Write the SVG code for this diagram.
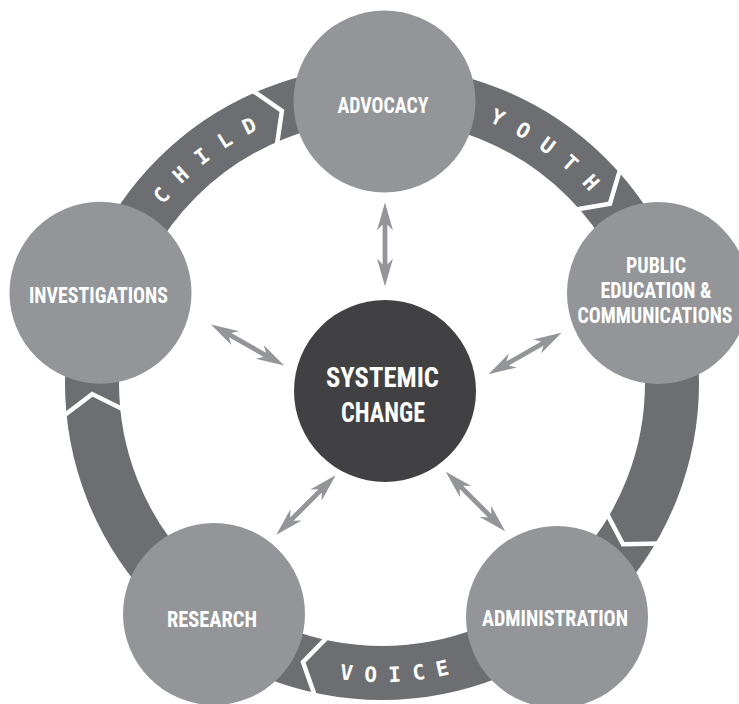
<svg xmlns="http://www.w3.org/2000/svg" xmlns:xlink="http://www.w3.org/1999/xlink" width="739" height="704" viewBox="0 0 739 704">
  <style>
    .node { fill: #939598; }
    .core { fill: #414143; }
    .lbl { font-family: "Liberation Sans Narrow", "Roboto Condensed", "Liberation Sans", Arial, sans-serif; font-weight: bold; font-size: 22px; fill: #ffffff; text-anchor: middle; }
    .big { font-size: 28px; }
    .ring { fill: none; stroke: #6d6e71; stroke-width: 54; }
    .chev { fill: none; stroke: #ffffff; stroke-width: 4.5; stroke-linejoin: miter; }
    .rt { font-family: "DejaVu Sans Mono", "Liberation Mono", monospace; font-weight: bold; font-size: 21px; fill: #ffffff; }
    .arr { fill: #939598; }
  </style>
  <defs>
    <path id="arr" d="M42,0 L14,-8 L20,-2.4 L-20,-2.4 L-14,-8 L-42,0 L-14,8 L-20,2.4 L20,2.4 L14,8 Z"/>
    <path id="pChild" d="M119.6,279.6 A282,282 0 0 1 340.3,104.1"/>
    <path id="pYouth" d="M405.6,102 A282,282 0 0 1 637.2,262.9"/>
    <path id="pVoice" d="M244,648.2 A299,299 0 0 0 542.7,635.2"/>
  </defs>
  <rect width="739" height="704" fill="#ffffff"/>
  <g id="ring">
    <circle class="ring" cx="382" cy="383" r="290"/>
    <polyline class="chev" points="660,543.5 623,544.3 606.3,512.5"/>
    <polyline class="chev" points="315.3,697 303,662 328.2,636.3"/>
    <polyline class="chev" points="62.8,416.5 92.2,394.1 124.4,410.1"/>
    <polyline class="chev" points="251.4,89.8 281.9,110.8 276.7,146.4"/>
    <polyline class="chev" points="620.5,168.2 609.9,203.7 574.5,209.7"/>
    <text class="rt" letter-spacing="14.8"><textPath href="#pChild" xlink:href="#pChild" startOffset="86.4">CHILD</textPath></text>
    <text class="rt" letter-spacing="15.2"><textPath href="#pYouth" xlink:href="#pYouth" startOffset="85.7">YOUTH</textPath></text>
    <text class="rt" letter-spacing="12"><textPath href="#pVoice" xlink:href="#pVoice" startOffset="100.9">VOICE</textPath></text>
  </g>
  <g id="connectors" class="arr">
    <use href="#arr" xlink:href="#arr" transform="translate(385,244.5) rotate(90)"/>
    <use href="#arr" xlink:href="#arr" transform="translate(247.5,345) rotate(29.4)"/>
    <use href="#arr" xlink:href="#arr" transform="translate(525,353.5) rotate(-29.7)"/>
    <use href="#arr" xlink:href="#arr" transform="translate(306,505) rotate(-45)"/>
    <use href="#arr" xlink:href="#arr" transform="translate(475.5,501.5) rotate(45)"/>
  </g>
  <g id="advocacy">
    <circle class="node" cx="384.5" cy="101.5" r="91"/>
    <text class="lbl" x="383" y="113" textLength="91" lengthAdjust="spacingAndGlyphs">ADVOCACY</text>
  </g>
  <g id="public-education">
    <circle class="node" cx="658" cy="293" r="91"/>
    <text class="lbl" x="656" y="273" textLength="60" lengthAdjust="spacingAndGlyphs">PUBLIC</text>
    <text class="lbl" x="656" y="298" textLength="111" lengthAdjust="spacingAndGlyphs">EDUCATION &amp;</text>
    <text class="lbl" x="655" y="323" textLength="155" lengthAdjust="spacingAndGlyphs">COMMUNICATIONS</text>
  </g>
  <g id="administration">
    <circle class="node" cx="557" cy="617" r="91"/>
    <text class="lbl" x="555" y="626" textLength="146" lengthAdjust="spacingAndGlyphs">ADMINISTRATION</text>
  </g>
  <g id="research">
    <circle class="node" cx="214" cy="614" r="91"/>
    <text class="lbl" x="212" y="627" textLength="90" lengthAdjust="spacingAndGlyphs">RESEARCH</text>
  </g>
  <g id="investigations">
    <circle class="node" cx="100.5" cy="292.7" r="91"/>
    <text class="lbl" x="98.5" y="303" textLength="139" lengthAdjust="spacingAndGlyphs">INVESTIGATIONS</text>
  </g>
  <g id="systemic-change">
    <circle class="core" cx="385" cy="391" r="91"/>
    <text class="lbl big" x="382.5" y="387" textLength="113" lengthAdjust="spacingAndGlyphs">SYSTEMIC</text>
    <text class="lbl big" x="383" y="422" textLength="84" lengthAdjust="spacingAndGlyphs">CHANGE</text>
  </g>
</svg>
